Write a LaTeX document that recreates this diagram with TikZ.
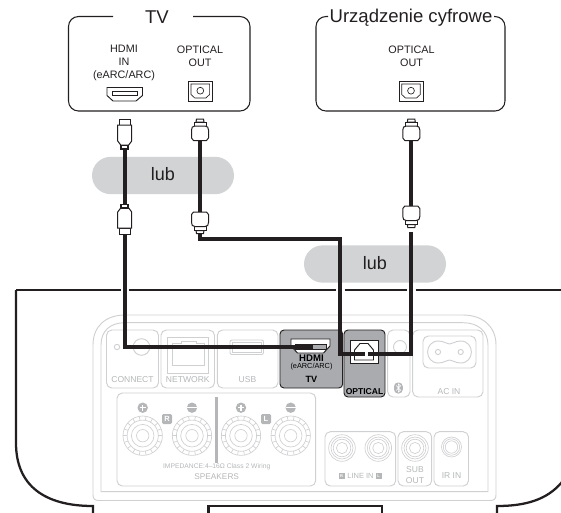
\documentclass[tikz,border=0pt]{standalone}
\usepackage{fontspec}
\setmainfont{Liberation Sans}
\definecolor{pillgray}{HTML}{D1D3D4}
\definecolor{panelline}{HTML}{CFD0D2}
\definecolor{paneltext}{HTML}{B4B6B8}
\definecolor{activegray}{HTML}{A9ABAE}
\definecolor{inkblack}{HTML}{231F20}
\tikzset{
  lbl/.style={inner sep=0pt,align=center,text=inkblack},
  title/.style={lbl,font=\fontsize{13.9}{15}\selectfont},
  small/.style={lbl,font=\fontsize{8.1}{9.75}\selectfont},
  pilltext/.style={lbl,font=\fontsize{13.5}{15}\selectfont},
  devbox/.style={draw=inkblack,line width=0.8pt,rounded corners=7.5pt},
  pillshape/.style={fill=pillgray,draw=none,rounded corners=14pt},
  wire/.style={draw=inkblack,line width=3pt,line join=miter},
  body/.style={draw=inkblack,line width=1.7pt,line join=miter},
  plug/.style={draw=inkblack,fill=white,line width=0.75pt},
  pline/.style={draw=panelline,line width=0.7pt},
  pbox/.style={pline,rounded corners=4pt},
  ptext/.style={inner sep=0pt,align=center,text=paneltext,font=\fontsize{6.4}{7.6}\selectfont},
  akt/.style={draw=inkblack,fill=activegray,line width=0.7pt,rounded corners=3pt},
  aktbold/.style={inner sep=0pt,align=center,text=black,font=\bfseries\fontsize{6.4}{7}\selectfont},
  portline/.style={draw=inkblack,line width=0.6pt},
  pics/optplug/.style={code={
    \path[plug] (-3.5,0) -- (3.5,0) -- (4,3) -- (-4,3) -- cycle;
    \path[plug] (-6,3) rectangle (6,7);
    \path[plug] (-8.5,11) .. controls (-8.5,8.5) and (-7.5,7) .. (-5,7) -- (5,7) .. controls (7.5,7) and (8.5,8.5) .. (8.5,11) -- (8.5,19) -- (6.5,21.5) -- (-6.5,21.5) -- (-8.5,19) -- cycle;
  }},
  pics/hdmiplug/.style={code={
    \path[plug] (-5.5,0) rectangle (5.5,6);
    \path[plug] (-7,6) -- (7,6) -- (7,22) -- (4,26) -- (-4,26) -- (-7,22) -- cycle;
    \path[draw=inkblack,fill=inkblack,line width=0.6pt] (-4,26) rectangle (4,30);
    \path[fill=white] (-2.4,26.8) rectangle (2.4,28.6);
  }},
  pics/optport/.style={code={
    \path[draw=inkblack,line width=0.7pt] (-12,-10) rectangle (12,10);
    \path[draw=inkblack,line width=0.5pt] (-9.3,-7) -- (9.3,-7) -- (9.3,3.5) -- (5.5,7) -- (-5.5,7) -- (-9.3,3.5) -- cycle;
    \path[draw=inkblack,line width=0.5pt] (0,-0.3) circle[radius=3.4];
  }},
  pics/post/.style={code={
    \path[pline,line width=0.5pt] (0,0) circle[radius=19.7] (0,0) circle[radius=15.6] (0,0) circle[radius=11.3] (0,0) circle[radius=6.2];
    \foreach \a in {0,20,...,340} \path[pline,line width=0.5pt] (\a:15.6) -- (\a:19.7);
  }},
  pics/jack/.style={code={
    \path[pline,line width=0.5pt] (0,0) circle[radius=13.3] (0,0) circle[radius=11] (0,0) circle[radius=8.8] (0,0) circle[radius=5.6];
  }},
  pics/plusmark/.style={code={
    \path[fill=paneltext] (0,0) circle[radius=5.2];
    \path[draw=white,line width=0.8pt] (-3,0) -- (3,0) (0,-3) -- (0,3);
  }},
  pics/minusmark/.style={code={
    \path[fill=paneltext] (0,0) circle[radius=5.2];
    \path[draw=white,line width=0.9pt] (-5,0) -- (5,0);
  }},
}
\begin{document}
\begin{tikzpicture}[x=0.75pt,y=-0.75pt]
\useasboundingbox (0,0) rectangle (561,512);
\clip (0,0) rectangle (561,512);

% ---------- gray rear panel
\path[pline] (93,345) .. controls (93,326) and (106,315) .. (125,315) -- (463,315) .. controls (482,315) and (496,326) .. (496,345) -- (496,495) .. controls (496,499) and (494,500.5) .. (490,500.5) -- (99,500.5) .. controls (95,500.5) and (93,499) .. (93,495) -- cycle;
\path[pline] (101,345) .. controls (101,331) and (110,322.7) .. (125,322.7) -- (463,322.7) .. controls (478,322.7) and (488,331) .. (488,345) -- (488,491.7) -- (101,491.7) -- cycle;

% CONNECT
\path[pbox] (106.5,330) rectangle (158.5,388);
\path[pline] (117,347) circle[radius=2.7] (141.5,347) circle[radius=8.3];
\node[ptext] (tconnect) at (132.5,379.5) {CONNECT};
% NETWORK
\path[pbox] (161,330) rectangle (214.5,388);
\path[pline] (167.3,337) rectangle (208.7,373);
\path[pline] (172,343) -- (181,343) -- (181,341.5) -- (196,341.5) -- (196,343) -- (204,343) -- (204,365) -- (172,365) -- cycle;
\node[ptext] (tnetwork) at (187.8,379.5) {NETWORK};
% USB
\path[pbox] (217.3,330) rectangle (278,388);
\path[pline,rounded corners=1.5pt] (230,340) rectangle (263.5,354.5);
\path[pline] (232,342) rectangle (261.5,352.5);
\node[ptext] (tusb) at (247.5,379.5) {USB};
% BT
\path[pbox] (387.7,330) rectangle (410,397);
\path[pline] (400,347) circle[radius=6.5];
\path[fill=paneltext,rounded corners=3pt] (394,382.5) rectangle (402.8,393.5);
\path[draw=white,line width=0.5pt] (396.3,385.5) -- (400.5,390.2) -- (398.4,392) -- (398.4,384) -- (400.5,385.8) -- (396.3,390.5);
% AC IN
\path[pbox] (412.7,330) rectangle (483,397);
\path[pbox] (423,336) rectangle (476,368);
\path[pline] (438.5,341) .. controls (444,341) and (446,344) .. (449.5,344) .. controls (453,344) and (455,341) .. (460.5,341) .. controls (475,341) and (475,363) .. (460.5,363) .. controls (455,363) and (453,360) .. (449.5,360) .. controls (446,360) and (444,363) .. (438.5,363) .. controls (424,363) and (424,341) .. (438.5,341) -- cycle;
\path[pline] (438,352) circle[radius=2.6] (460.7,352) circle[radius=2.6];
\node[ptext] (tacin) at (449,391.5) {AC IN};

% SPEAKERS
\path[pbox] (117,393) rectangle (315.7,486);
\foreach \px/\mk in {142.7/plusmark,192/minusmark,241/plusmark,290.7/minusmark} {
  \pic at (\px,435.7) {post};
  \pic at (\px,407.7) {\mk};
}
\path[draw=paneltext,line width=1.9pt] (216.7,397) -- (216.7,463);
\node[fill=paneltext,text=white,inner sep=0pt,minimum width=7.5pt,minimum height=7.5pt,rounded corners=1pt,font=\bfseries\fontsize{5.6}{6}\selectfont] (badgeR) at (167,419) {R};
\node[fill=paneltext,text=white,inner sep=0pt,minimum width=7.5pt,minimum height=7.5pt,rounded corners=1pt,font=\bfseries\fontsize{5.6}{6}\selectfont] (badgeL) at (266,419) {L};
\node[ptext,font=\fontsize{5.05}{6}\selectfont] (timp) at (216.7,467) {IMPEDANCE:4–16Ω Class 2 Wiring};
\node[ptext,font=\fontsize{6.2}{7}\selectfont] (tspk) at (216.7,476.5) {SPEAKERS};

% LINE IN / SUB OUT / IR IN
\path[pbox] (325,431.7) rectangle (395.7,486);
\pic at (342,448) {jack};
\pic at (378.3,448) {jack};
\node[ptext,font=\fontsize{5.6}{7}\selectfont] (tline) at (360.5,476) {LINE IN};
\node[fill=paneltext,text=white,inner sep=0pt,minimum width=4.5pt,minimum height=4.5pt,font=\bfseries\fontsize{3}{3}\selectfont] (bl1) at (341.5,476) {R};
\node[fill=paneltext,text=white,inner sep=0pt,minimum width=4.5pt,minimum height=4.5pt,font=\bfseries\fontsize{3}{3}\selectfont] (bl2) at (378.5,476) {L};
\path[pbox] (398,431.7) rectangle (431.7,486);
\pic at (415,448) {jack};
\node[ptext] (tsub) at (415,475) {SUB\\OUT};
\path[pbox] (434,431.7) rectangle (468.5,486);
\path[pline,line width=0.5pt] (451.5,447) circle[radius=10] (451.5,447) circle[radius=8.2] (451.5,447) circle[radius=6.2];
\node[ptext] (tir) at (451.5,476) {IR IN};

% ---------- active sockets
\path[akt] (280,330) rectangle (342.7,388);
\path[draw=inkblack,fill=white,line width=0.7pt] (291,339) -- (330,339) -- (330,346) -- (323.5,353) -- (297.5,353) -- (291,346) -- cycle;
\path[draw=inkblack,fill=activegray,line width=0.5pt] (295,344.5) rectangle (326,349.5);
\node[aktbold,font=\bfseries\fontsize{7.2}{8}\selectfont] (thdmi) at (311.5,358.2) {HDMI};
\node[aktbold,font=\fontsize{5.5}{6}\selectfont] (tearc) at (311.5,366.7) {(eARC/ARC)};
\node[aktbold,font=\bfseries\fontsize{6.8}{7}\selectfont] (ttv) at (311.5,379.5) {TV};
\path[akt] (344,330) rectangle (385,397);
\path[draw=inkblack,fill=white,line width=0.7pt] (350,340.6) rectangle (378,363);
\path[draw=inkblack,line width=0.7pt] (354.5,360) -- (354.5,350) -- (360,343.5) -- (368,343.5) -- (373.5,350) -- (373.5,360) -- cycle;
\node[aktbold] (topt) at (364.5,391.3) {OPTICAL};

% ---------- device outline
\path[body] (16,290) -- (121,290) (128.5,290) -- (336,290) (344.5,290) -- (407,290) (415.5,290) -- (562,290);
\path[body] (16,290) -- (16,443) .. controls (16,486) and (45,506) .. (93,506) -- (93,513);
\path[body] (208.5,513) -- (208.5,506) -- (382,506) -- (382,513);
\path[body] (497,513) -- (497,506) .. controls (525,506) and (547,500) .. (562,482);

% ---------- pills
\node[pillshape,minimum width=106.5pt,minimum height=28pt,inner sep=0pt] (pill1) at (163,175.5) {};
\node[pilltext] (lub1) at (163,174) {lub};
\node[pillshape,minimum width=106.5pt,minimum height=28pt,inner sep=0pt] (pill2) at (375,264) {};
\node[pilltext] (lub2) at (375,263) {lub};

% ---------- source devices
\path[devbox] (113,16.5) -- (68.5,16.5) -- (68.5,111) -- (250,111) -- (250,16.5) -- (193,16.5);
\node[title] (tv) at (157,17) {TV};
\node[small] (hdmiin) at (124,63) {HDMI\\IN\\(eARC/ARC)};
\node[small] (optout1) at (200,56.5) {OPTICAL\\OUT};
\path[portline,line width=0.7pt] (107,87.5) -- (142.5,87.5) -- (142.5,95.5) -- (136,101) -- (113,101) -- (107,95.5) -- cycle;
\path[portline] (112,91.5) -- (137.5,91.5) -- (137.5,95.5) -- (112,95.5) -- cycle;
\pic at (200.3,91) {optport};

\path[devbox] (328,16.5) -- (316,16.5) -- (316,111) -- (505,111) -- (505,16.5) -- (494,16.5);
\node[title] (digital) at (411,18) {Urządzenie cyfrowe};
\node[small] (optout2) at (411.5,56.5) {OPTICAL\\OUT};
\pic at (411,91) {optport};

% ---------- cables
\coordinate (hA) at (124.7,149);
\coordinate (hB) at (124.7,204);
\coordinate (hC) at (124.7,234);
\coordinate (hD) at (124.7,347);
\coordinate (hE) at (313,347);
\coordinate (oA) at (200,140);
\coordinate (oB) at (200,212);
\coordinate (oC) at (200,232);
\coordinate (oD) at (200,238.5);
\coordinate (oE) at (340,238.5);
\coordinate (oF) at (340,354);
\coordinate (oG) at (365,354);
\coordinate (dA) at (411.3,140);
\coordinate (dB) at (411.3,206);
\coordinate (dC) at (411.3,232);
\coordinate (dD) at (411.3,354);
\coordinate (dE) at (368,354);
\path[wire] (hA) -- (hB);
\path[wire] (hC) -- (hD) -- (hE);
\path[wire] (oA) -- (oB);
\path[wire] (oC) -- (oD) -- (oE) -- (oF) -- (oG);
\path[wire] (dA) -- (dB);
\path[wire] (dC) -- (dD) -- (dE);

\pic at (124.7,119) {hdmiplug};
\pic[yscale=-1] at (124.7,234) {hdmiplug};
\pic at (200,119) {optplug};
\pic[yscale=-1] at (200,233.5) {optplug};
\pic at (411.3,119) {optplug};
\pic[yscale=-1] at (411.3,227.5) {optplug};
\end{tikzpicture}
\end{document}
